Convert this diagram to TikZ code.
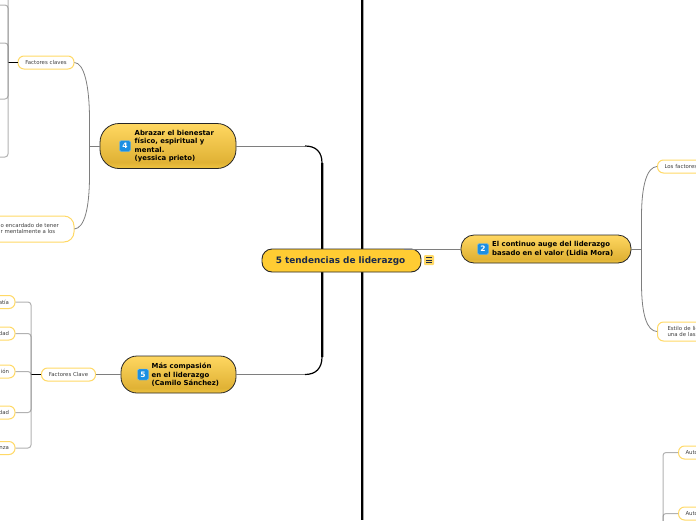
\documentclass[tikz,border=0pt]{standalone}
\usepackage{fontspec}
\setmainfont{DejaVu Sans}
\definecolor{topbase}{HTML}{EFC440}
\definecolor{topdark}{HTML}{E0B235}
\definecolor{toplight}{HTML}{FFD761}
\definecolor{rootfill}{HTML}{FFCC33}
\definecolor{rootink}{HTML}{1B2A4A}
\definecolor{leafedge}{HTML}{FFD966}
\definecolor{linkgrey}{HTML}{7E7E7E}
\definecolor{iconblue}{HTML}{1B8FE3}
\pgfdeclareverticalshading{topicfill}{100bp}{color(0bp)=(topbase); color(25bp)=(topbase); color(32bp)=(topdark); color(75bp)=(toplight); color(100bp)=(toplight)}
\tikzset{
    rootnode/.style = {draw=black!85, line width=0.9pt, fill=rootfill, rounded corners=10pt, minimum width=159pt, minimum height=23pt, inner sep=0pt, text height=6pt, text depth=0.5pt, text=rootink, font=\bfseries\fontsize{8.9}{10}\selectfont},
    topicnode/.style = {draw=black!85, line width=0.8pt, shading=topicfill, inner sep=0pt},
    topictext/.style = {anchor=west, align=left, inner sep=0pt, font=\bfseries\fontsize{6.9}{8.4}\selectfont},
    leafnode/.style = {draw=leafedge, line width=1pt, fill=white, rounded corners=6pt, inner sep=0pt, text=black!75, font=\fontsize{5.4}{6.2}\selectfont},
    numbericon/.style = {draw=iconblue!60, fill=iconblue, rounded corners=1.5pt, minimum size=11pt, inner sep=0pt, text=white, font=\bfseries\fontsize{7.5}{8}\selectfont},
    link/.style = {draw=linkgrey, line width=0.8pt},
    bracket/.style = {draw=linkgrey, draw opacity=0.6, line width=1pt, rounded corners=3pt},
    spine/.style = {draw=black, line width=2.2pt},
    spineshade/.style = {draw=black!35, line width=1pt},
}
\begin{document}
\begin{tikzpicture}[x=1pt, y=-1pt]
    \useasboundingbox (0, 0) rectangle (696, 520);
    \clip (0, 0) rectangle (696, 520);
    % spines behind the root
    \draw[spineshade] (363.6, 0) -- (363.6, 520);
    \draw[spine] (362, 0) -- (362, 520);
    \coordinate (upknee) at (322, 163);
    \coordinate (lowknee) at (322, 357);
    \draw[spineshade] (323.6, 163) -- (323.6, 357);
    \draw[spine] (upknee) -- (lowknee);

    % main topics
    \node[rootnode] (root) at (341.5, 260.5) {\hspace*{-2pt}5 tendencias de liderazgo};
    \node[topicnode, rounded corners=19pt, minimum width=136pt, minimum height=45pt] (bienestar) at (168, 146) {};
    \node[topicnode, rounded corners=16pt, minimum width=115pt, minimum height=37pt] (compasion) at (178.5, 374.5) {};
    \node[topicnode, rounded corners=13pt, minimum width=170pt, minimum height=28pt] (valor) at (546, 249) {};
    \node[topictext] (bienestartext) at (134.5, 146) {Abrazar el bienestar\\físico, espiritual y\\mental.\\(yessica prieto)};
    \node[topictext] (compasiontext) at (151.5, 375) {Más compasión\\en el liderazgo\\(Camilo Sánchez)};
    \node[topictext] (valortext) at (492, 249) {El continuo auge del liderazgo\\basado en el valor (Lidia Mora)};
    \node[numbericon] (icon4) at (125, 146) {4};
    \node[numbericon] (icon5) at (143, 374.5) {5};
    \node[numbericon] (icon2) at (483, 249) {2};

    % note icon
    \node[fill=leafedge, rounded corners=1pt, minimum size=10pt, inner sep=0pt] (note) at (429, 260) {};
    \draw[rootink, line width=0.6pt] (note.center) ++(-3, -2.5) -- ++(6, 0) ++(-6, 2.5) -- ++(6, 0) ++(-6, 2.5) -- ++(6, 0);

    % leaves on the left
    \node[leafnode, minimum width=56pt, minimum height=13pt] (claves) at (46, 62.5) {Factores claves};
    \node[leafnode, rounded corners=10pt, minimum width=90pt, minimum height=26pt] (tener) at (29, 229) {};
    \node[anchor=east, align=left, inner sep=0pt, text=black!75, font=\fontsize{5.4}{6.2}\selectfont] (tenertext) at (59, 228.5) {o encardado de tener\\r mentalmente a los};
    \node[leafnode, minimum width=54pt, minimum height=13pt] (clave) at (68.5, 374.5) {Factores Clave};
    \foreach \leafname/\leaftext/\leafy in {empatia/atía/302, dad1/dad/333.5, ion/ión/371.5, dad2/dad/412.5, nza/nza/448}
        \node[leafnode, minimum width=40pt, minimum height=13pt, anchor=east, text width=28pt, align=right] (\leafname) at (15.5, \leafy) {\leaftext};

    % leaves on the right
    \node[leafnode, minimum width=60pt, minimum height=13pt, anchor=west, text width=46pt, align=left] (factores) at (657, 166.5) {Los factores};
    \node[leafnode, minimum width=60pt, minimum height=19pt, anchor=west, text width=40pt, align=left] (estilo) at (657, 331.5) {Estilo de lic\\una de las};
    \node[leafnode, minimum width=40pt, minimum height=13pt, anchor=west, text width=26pt, align=left] (auto1) at (678, 452.5) {Auto};
    \node[leafnode, minimum width=40pt, minimum height=13pt, anchor=west, text width=26pt, align=left] (auto2) at (678, 513.5) {Auto};

    % connectors from the root
    \draw[link] (bienestar.east) -- (305, 146);
    \draw[link] (compasion.east) -- (305, 374.5);
    \draw[draw=black, line width=1.2pt] (305, 146) .. controls (316, 146) and (322, 152) .. (upknee);
    \draw[draw=black, line width=1.2pt] (305, 374.5) .. controls (316, 374.5) and (322, 368) .. (lowknee);
    \draw[link] (404, 249) -- (valor.west);

    % curved links
    \coordinate (leftfork) at (89.5, 146);
    \coordinate (rightfork) at (641.5, 249);
    \draw[link] (bienestar.west) -- (leftfork);
    \draw[link] (valor.east) -- (rightfork);
    \draw[link] (claves.east) .. controls (84, 63) and (89.5, 85) .. (89.5, 120) -- (leftfork);
    \draw[link] (tener.east) .. controls (84, 228) and (89.5, 210) .. (89.5, 175) -- (leftfork);
    \draw[link] (factores.west) .. controls (647, 167) and (641.5, 185) .. (641.5, 217) -- (rightfork);
    \draw[link] (estilo.west) .. controls (647, 331) and (641.5, 315) .. (641.5, 283) -- (rightfork);
    \draw[link] (compasion.west) -- (clave.east);

    % brackets on the left
    \coordinate (clavesfork) at (8, 62.5);
    \coordinate (clavefork) at (31, 374.5);
    \draw[draw=black, line width=0.9pt] (claves.west) -- (clavesfork);
    \draw[draw=black, line width=0.9pt] (clave.west) -- (clavefork);
    \foreach \branchy in {-20, 5, 43, 99, 157}
        \draw[bracket] (0, \branchy) -| (clavesfork);
    \foreach \leafname in {empatia, dad1, ion, dad2, nza}
        \draw[bracket] (\leafname.east) -| (clavefork);

    % bracket bottom right
    \coordinate (autofork) at (663, 530);
    \draw[bracket] (auto1.west) -| (autofork);
    \draw[bracket] (auto2.west) -| (autofork);
\end{tikzpicture}
\end{document}
